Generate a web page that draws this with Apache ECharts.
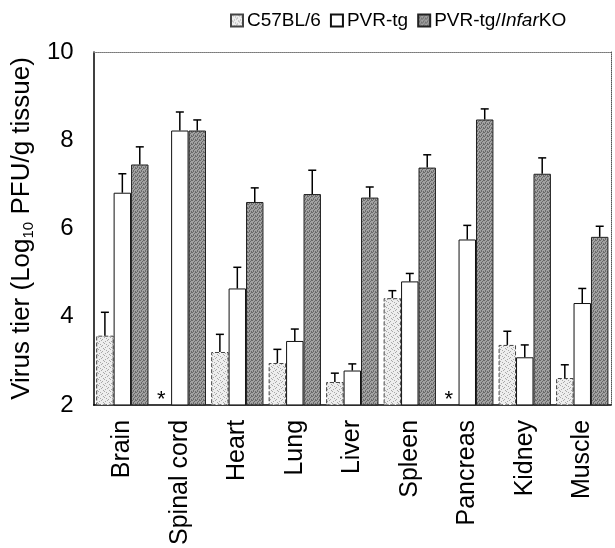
<!DOCTYPE html>
<html>
<head>
<meta charset="utf-8">
<script src="https://cdn.jsdelivr.net/npm/echarts@6/dist/echarts.min.js"></script>
<style>
  html, body { margin: 0; padding: 0; background: #fff; }
  #chart { width: 615px; height: 548px; }
</style>
</head>
<body>
<div id="chart"></div>
<script>
const tissues = ['Brain', 'Spinal cord', 'Heart', 'Lung', 'Liver', 'Spleen', 'Pancreas', 'Kidney', 'Muscle']
// null = not detected (drawn as *)
const c57 = [3.57, null, 3.2, 2.95, 2.52, 4.42, null, 3.36, 2.61]
const c57Err = [0.53, null, 0.4, 0.31, 0.2, 0.17, null, 0.31, 0.3]
const pvr = [6.81, 8.22, 4.64, 3.45, 2.78, 4.8, 5.75, 3.08, 4.31]
const pvrErr = [0.43, 0.42, 0.48, 0.27, 0.15, 0.18, 0.32, 0.28, 0.33]
const ko = [7.45, 8.22, 6.6, 6.78, 6.7, 7.38, 8.47, 7.24, 5.81]
const koErr = [0.4, 0.24, 0.32, 0.54, 0.24, 0.29, 0.24, 0.36, 0.24]
const yTicks = [2, 4, 6, 8, 10]

const gapPct = 0.09
const font = 'Liberation Sans, Arial, sans-serif'

// small fixed dither patterns to imitate the print texture
function makePattern (bg, fg, dots, size) {
  const c = document.createElement('canvas')
  c.width = size
  c.height = size
  const ctx = c.getContext('2d')
  ctx.fillStyle = bg
  ctx.fillRect(0, 0, size, size)
  ctx.fillStyle = fg
  dots.forEach(d => ctx.fillRect(d[0], d[1], 1, 1))
  return { image: c, repeat: 'repeat' }
}
const lightFill = makePattern('#eeeeee', '#a8a8a8', [[1, 0], [4, 2], [0, 3], [3, 5], [5, 4], [2, 1]], 6)
const darkFill = makePattern('#a2a2a2', '#6a6a6a', [[0, 0], [2, 1], [1, 2], [3, 3], [3, 0], [1, 3]], 4)

const errData = []
const starData = []
;[[c57, c57Err], [pvr, pvrErr], [ko, koErr]].forEach((pair, s) => {
  pair[0].forEach((v, i) => {
    if (v == null) starData.push([i, 2, s])
    else errData.push([i, v, pair[1][i], s])
  })
})

function barCenter (api, idx, s) {
  const x = api.coord([idx, 2])[0]
  const catW = api.size([1, 0])[0]
  const bw = catW * (1 - gapPct) / 3
  return x + (s - 1) * bw
}

const chart = echarts.init(document.getElementById('chart'))
chart.setOption({
  animation: false,
  textStyle: { fontFamily: font, color: '#000' },
  legend: {
    data: ['C57BL/6', 'PVR-tg', 'PVR-tg/InfarKO'],
    left: 225,
    top: 6,
    icon: 'rect',
    itemWidth: 12,
    itemHeight: 12,
    itemGap: 9,
    textStyle: {
      fontSize: 19,
      fontFamily: font,
      color: '#000',
      padding: [0, 0, 0, -1],
      rich: { i: { fontStyle: 'italic', fontSize: 19, fontFamily: font, color: '#000' } }
    },
    formatter: name => name === 'PVR-tg/InfarKO' ? 'PVR-tg/{i|Infar}KO' : name
  },
  grid: { left: 93, right: 4, top: 52, bottom: 141 },
  xAxis: [{
    type: 'category',
    data: tissues,
    axisLine: { lineStyle: { color: '#000', width: 1.5 } },
    axisTick: { show: false },
    axisLabel: { rotate: 90, fontSize: 25, margin: 15, color: '#000', fontFamily: font }
  }, {
    type: 'category',
    data: tissues,
    position: 'top',
    axisLine: { lineStyle: { color: '#777', width: 1, type: 'dotted' } },
    axisTick: { show: false },
    axisLabel: { show: false }
  }],
  yAxis: [{
    type: 'value',
    min: yTicks[0],
    max: yTicks[yTicks.length - 1],
    interval: 2,
    name: 'Virus tier (Log{sub|10} PFU/g tissue)',
    nameLocation: 'middle',
    nameGap: 51,
    nameTextStyle: {
      fontSize: 26,
      fontFamily: font,
      color: '#000',
      lineHeight: 28,
      rich: { sub: { fontSize: 15, fontFamily: font, color: '#000', verticalAlign: 'bottom', lineHeight: 24 } }
    },
    axisLine: { show: true, lineStyle: { color: '#000', width: 1.5 } },
    axisTick: { show: false },
    splitLine: { show: false },
    axisLabel: { fontSize: 24, margin: 20, color: '#000', fontFamily: font }
  }, {
    type: 'value',
    min: yTicks[0],
    max: yTicks[yTicks.length - 1],
    interval: 2,
    position: 'right',
    axisLine: { show: true, lineStyle: { color: '#555', width: 1, type: 'dotted' } },
    axisTick: { show: false },
    axisLabel: { show: false },
    splitLine: { show: false }
  }],
  series: [
    {
      name: 'C57BL/6',
      type: 'bar',
      data: c57,
      barGap: '0%',
      barCategoryGap: (gapPct * 100) + '%',
      itemStyle: { color: lightFill, borderColor: '#444', borderWidth: 1, borderType: 'dashed' }
    },
    {
      name: 'PVR-tg',
      type: 'bar',
      data: pvr,
      itemStyle: { color: '#ffffff', borderColor: '#111', borderWidth: 1 }
    },
    {
      name: 'PVR-tg/InfarKO',
      type: 'bar',
      data: ko,
      itemStyle: { color: darkFill, borderColor: '#222', borderWidth: 1 }
    },
    {
      name: 'err',
      type: 'custom',
      data: errData,
      encode: { x: 0, y: 1 },
      z: 5,
      renderItem: (params, api) => {
        const idx = api.value(0)
        const v = api.value(1)
        const e = api.value(2)
        const s = api.value(3)
        const cx = barCenter(api, idx, s)
        const y0 = api.coord([idx, v])[1]
        const y1 = api.coord([idx, v + e])[1]
        const style = { stroke: '#000', lineWidth: 1.5 }
        return {
          type: 'group',
          children: [
            { type: 'line', shape: { x1: cx, y1: y0, x2: cx, y2: y1 }, style },
            { type: 'line', shape: { x1: cx - 4, y1: y1, x2: cx + 4, y2: y1 }, style }
          ]
        }
      }
    },
    {
      name: 'nd',
      type: 'custom',
      data: starData,
      encode: { x: 0, y: 1 },
      z: 5,
      renderItem: (params, api) => {
        const idx = api.value(0)
        const s = api.value(2)
        const cx = barCenter(api, idx, s) - 1
        const y = api.coord([idx, api.value(1)])[1]
        return {
          type: 'text',
          style: { x: cx, y: y - 16, text: '*', fontSize: 22, fontFamily: font, fill: '#000', align: 'center', verticalAlign: 'top' }
        }
      }
    }
  ]
})
</script>
</body>
</html>
